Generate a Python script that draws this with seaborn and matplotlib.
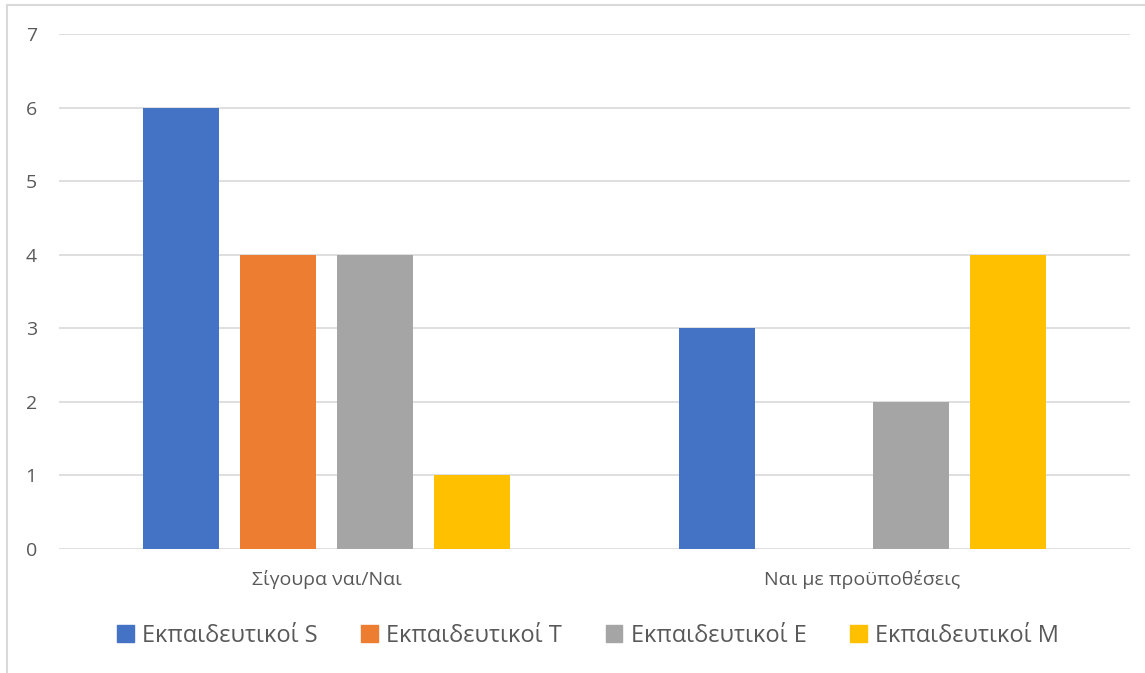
import matplotlib
matplotlib.use("Agg")
import matplotlib.pyplot as plt
from matplotlib.lines import Line2D
import seaborn as sns
import pandas as pd

# Survey answers by teacher group
categories = ["Σίγουρα ναι/Ναι", "Ναι με προϋποθέσεις"]
groups = ["Εκπαιδευτικοί S", "Εκπαιδευτικοί T", "Εκπαιδευτικοί E", "Εκπαιδευτικοί M"]
values_S = [6, 3]
values_T = [4, 0]
values_E = [4, 2]
values_M = [1, 4]
colors = ["#4472C4", "#ED7D31", "#A5A5A5", "#FFC000"]

rows = []
for g, vals in zip(groups, [values_S, values_T, values_E, values_M]):
    for c, v in zip(categories, vals):
        rows.append({"category": c, "group": g, "value": v})
df = pd.DataFrame(rows)

sns.set_theme(style="white")
plt.rcParams["font.family"] = ["Open Sans", "DejaVu Sans"]

W, H = 1145, 673
fig = plt.figure(figsize=(W / 100, H / 100), dpi=100)
ax = fig.add_axes([59 / W, 1 - 549 / H, (1130 - 59) / W, (549 - 34) / H])

sns.barplot(data=df, x="category", y="value", hue="group", order=categories,
            hue_order=groups, palette=colors, width=0.7245, gap=0.2165,
            saturation=1, linewidth=0, ax=ax, legend=False, zorder=3)

ax.set_ylim(0, 7)
ax.set_xlim(-0.5, 1.5)
ax.set_yticks(range(0, 8))
ax.yaxis.grid(True, color="#D9D9D9", linewidth=1.2, zorder=0)
ax.set_axisbelow(True)
for s in ax.spines.values():
    s.set_visible(False)
ax.set_xlabel("")
ax.set_ylabel("")
ax.tick_params(axis="y", length=0, pad=16, labelsize=14, labelcolor="#595959")
ax.tick_params(axis="x", length=0, pad=15, labelsize=14, labelcolor="#595959")

# Outer chart frame
fig.add_artist(Line2D([7 / W, 7 / W], [0, 1 - 5 / H], color="#D9D9D9", lw=1.5,
                      transform=fig.transFigure))
fig.add_artist(Line2D([7 / W, 1], [1 - 5 / H, 1 - 5 / H], color="#D9D9D9", lw=1.5,
                      transform=fig.transFigure))

handles = [plt.Rectangle((0, 0), 1, 1, color=c) for c in colors]
fig.legend(handles, groups, loc="center", bbox_to_anchor=(588 / W, 1 - 636 / H),
           ncol=4, frameon=False, fontsize=17, labelcolor="#595959",
           handlelength=0.7, handleheight=0.7, handletextpad=0.35,
           columnspacing=1.85)

fig.savefig("out.png", dpi=100)
